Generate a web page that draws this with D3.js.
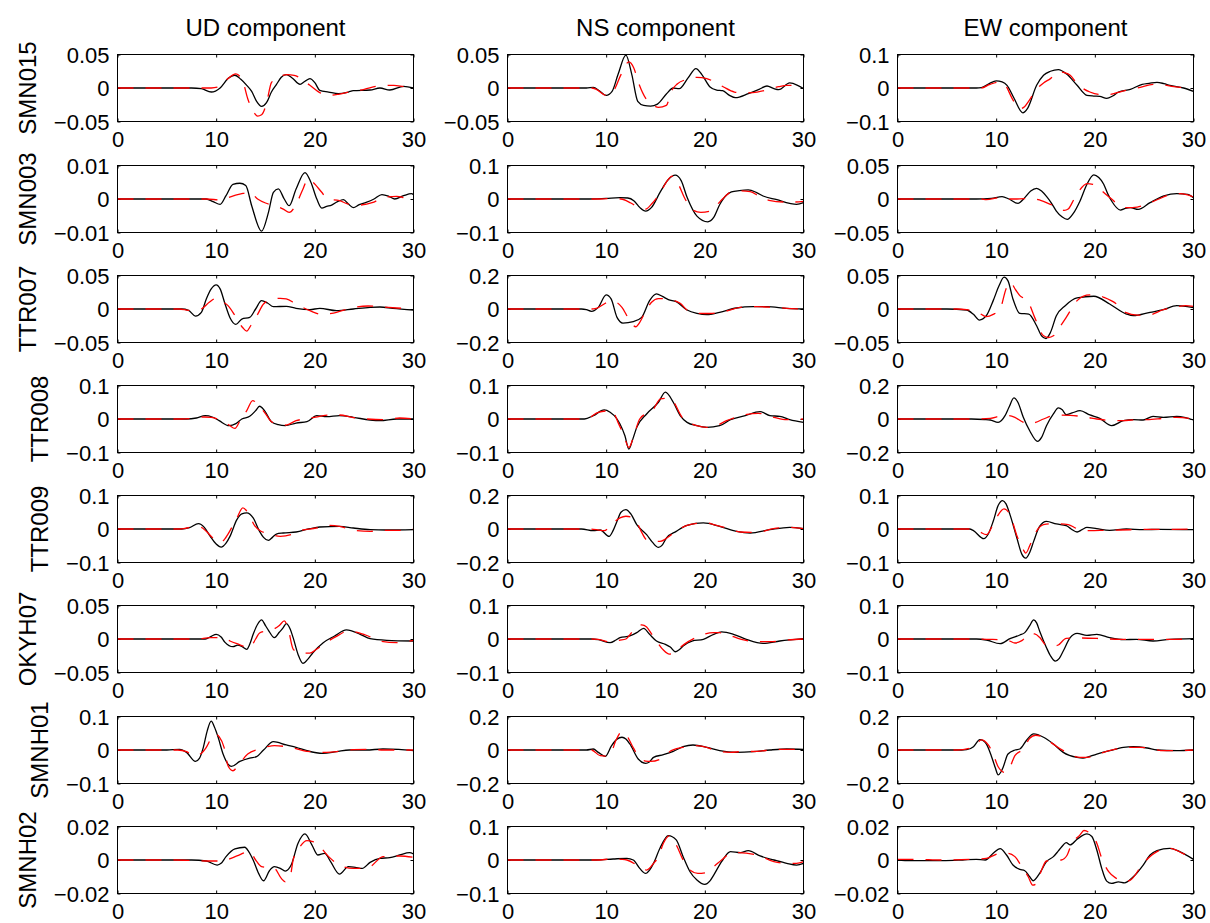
<!DOCTYPE html>
<html>
<head>
<meta charset="utf-8">
<script src="https://cdn.jsdelivr.net/npm/d3@7"></script>
<style>
  body { margin: 0; background: #fff; }
  svg text { font-family: "Liberation Sans", Arial, Helvetica, sans-serif; fill: #000; }
</style>
</head>
<body>
<svg id="chart" width="1210" height="923"></svg>
<script>
// Stations (rows) and components (columns)
const stations = ["SMN015", "SMN003", "TTR007", "TTR008", "TTR009", "OKYH07", "SMNH01", "SMNH02"];
const components = ["UD component", "NS component", "EW component"];
const xTicks = [0, 10, 20, 30];
// symmetric y-limits per station row: [UD, NS, EW]
const yLimits = [
  [0.05, 0.05, 0.1],
  [0.01, 0.1, 0.05],
  [0.05, 0.2, 0.05],
  [0.1, 0.1, 0.2],
  [0.1, 0.2, 0.1],
  [0.05, 0.1, 0.1],
  [0.1, 0.2, 0.2],
  [0.02, 0.1, 0.02]
];

// Waveforms: [time (s), velocity]; obs = observed (black), syn = synthetic (red dashed)
const ud_SMN015_obs = [[0,0],[7.5,0],[8.5,-0.001],[9.5,-0.006],[10.4,0],[11.2,0.014],[11.9,0.019],[12.5,0.013],[13.1,0.004],[13.6,-0.005],[14.1,-0.02],[14.6,-0.0275],[15.1,-0.022],[15.6,-0.006],[16.1,0.005],[16.6,0.016],[17.1,0.02],[17.7,0.015],[18.5,0.0055],[19,0.01],[19.5,0.014],[20,0.008],[20.5,-0.0035],[21.4,-0.006],[22.4,-0.0085],[23.4,-0.006],[23.9,-0.004],[25.6,-0.003],[26.6,0],[27.6,-0.003],[29,0.0025],[30,0]];
const ud_SMN015_syn = [[0,0],[8,0],[9.5,0],[10.5,0.003],[11.2,0.014],[12,0.021],[12.7,0.01],[13.2,-0.016],[13.9,-0.038],[14.2,-0.042],[14.6,-0.04],[15.1,-0.023],[15.6,0.008],[16.3,0.016],[17.2,0.02],[17.9,0.019],[19.5,0.004],[20.5,-0.007],[21.5,-0.011],[22.5,-0.009],[23.5,-0.006],[25,-0.002],[26.5,0.003],[28,0.004],[29,0.002],[30,0]];
const ns_SMN015_obs = [[0,0],[8,0],[8.7,0.001],[9.3,-0.004],[10,-0.011],[10.6,-0.005],[11.2,0.02],[12,0.049],[12.6,0.02],[13.2,-0.02],[13.8,-0.026],[14.5,-0.027],[15.2,-0.024],[16.1,-0.009],[16.8,0],[17.4,-0.001],[18.3,0.015],[19.1,0.029],[19.7,0.02],[20.5,0.002],[21.2,-0.003],[21.8,-0.004],[22.5,-0.011],[23.1,-0.0145],[24.4,-0.0085],[25.5,-0.002],[26.3,0.003],[27,-0.001],[27.5,-0.0025],[28.6,0.0075],[29.4,0.004],[30,-0.001]];
const ns_SMN015_syn = [[0,0],[8.5,0],[9,-0.002],[10,-0.011],[10.8,-0.003],[11.5,0.02],[12.3,0.039],[12.8,0.03],[13.3,0.007],[14.1,-0.0175],[14.8,-0.026],[15.3,-0.029],[16.1,-0.026],[16.6,-0.005],[17.2,0.006],[18.2,0.013],[19.2,0.016],[20.2,0.014],[21,0.009],[21.9,0.0015],[23,-0.006],[24,-0.0075],[25.3,-0.006],[26.5,-0.002],[27.5,0.002],[28.3,0.004],[29.2,0.004],[30,0.001]];
const ew_SMN015_obs = [[0,0],[8,0],[8.5,0.001],[9.3,0.013],[10,0.021],[10.6,0.018],[11.1,0.008],[11.8,-0.03],[12.7,-0.074],[13.2,-0.06],[14.1,0.008],[14.8,0.038],[15.5,0.05],[16.3,0.055],[17.2,0.04],[18.2,0.008],[19.2,-0.022],[19.9,-0.024],[20.5,-0.025],[21.2,-0.031],[21.8,-0.024],[22.4,-0.012],[23.6,-0.004],[24.8,0.011],[25.5,0.014],[26.3,0.017],[27,0.013],[27.6,0.008],[29,0],[30,-0.01]];
const ew_SMN015_syn = [[0,0],[8.5,0],[9.3,0.01],[10.3,0.018],[11,0.005],[11.6,-0.03],[12.4,-0.062],[12.9,-0.055],[13.4,-0.035],[14,-0.007],[14.8,0.015],[15.5,0.028],[16.3,0.048],[17,0.045],[17.5,0.038],[18.2,0.013],[19.5,-0.012],[20.5,-0.019],[21.5,-0.019],[22.5,-0.012],[23.5,-0.005],[24.6,0.002],[25.9,0.011],[27,0.009],[28,0.004],[29,0.001],[30,-0.005]];

const ud_SMN003_obs = [[0,0],[8,0],[9,0],[9.7,-0.0008],[10.4,-0.0016],[11,0.001],[11.7,0.0044],[12.4,0.0047],[13,0.004],[13.6,-0.002],[14.6,-0.0096],[15.3,-0.004],[15.8,0.002],[16.3,0.003],[16.9,0],[17.4,-0.002],[18.1,0.003],[19,0.0079],[19.6,0.005],[20.2,0],[20.7,-0.0027],[21.2,-0.0022],[21.7,-0.0018],[22.3,-0.0008],[22.9,-0.0002],[23.4,-0.0015],[23.9,-0.0026],[24.5,-0.0017],[25.2,-0.001],[26,0],[26.8,0.0013],[27.5,0.0008],[28.1,0],[29,0.001],[29.8,0.0016],[30,0.0013]];
const ud_SMN003_syn = [[0,0],[9,0],[10.5,-0.0003],[11.3,0.0005],[12.5,0.0015],[13.4,0.002],[14.2,0],[15,-0.0012],[16,-0.002],[16.8,-0.003],[17.4,-0.004],[18.2,-0.001],[18.8,0.003],[19.3,0.006],[19.8,0.005],[20.7,0.002],[21.3,0],[22.5,-0.0005],[23.4,-0.0015],[24.5,-0.0018],[25.9,-0.001],[27,0.0005],[28.3,0.0008],[29.2,0.0003],[30,0]];
const ns_SMN003_obs = [[0,0],[8,0],[10,0.002],[11.4,0.004],[12.2,0.003],[12.8,-0.005],[13.4,-0.025],[14,-0.036],[14.6,-0.025],[15.5,0.022],[16.3,0.058],[17,0.071],[17.6,0.055],[18.2,0.005],[19.2,-0.051],[20.3,-0.068],[20.9,-0.055],[21.5,-0.017],[22.2,0.012],[22.7,0.021],[23.5,0.025],[24.4,0.027],[25.2,0.02],[25.9,0.009],[27.3,-0.002],[28.6,-0.013],[29.3,-0.016],[30,-0.011]];
const ns_SMN003_syn = [[0,0],[9,0],[10.5,0.001],[11.5,0],[12.5,-0.012],[13.3,-0.025],[14,-0.03],[14.6,-0.015],[15.5,0.02],[16.2,0.055],[16.7,0.068],[17.3,0.045],[18,0],[18.8,-0.033],[19.6,-0.04],[20.5,-0.036],[21.3,-0.015],[21.8,0],[22.6,0.02],[23.6,0.024],[24.6,0.022],[25.5,0.008],[26.5,-0.004],[28,-0.009],[29,-0.009],[30,-0.007]];
const ew_SMN003_obs = [[0,0],[8,0],[9.5,0.001],[10.6,0.0035],[11.3,0],[12.2,-0.0065],[12.9,0.002],[13.5,0.012],[14.1,0.016],[14.6,0.012],[15.1,0.004],[15.6,-0.006],[16.1,-0.018],[16.7,-0.027],[17.2,-0.0305],[17.8,-0.022],[18.5,-0.003],[19.2,0.022],[19.9,0.036],[20.4,0.032],[20.9,0.022],[21.3,0.008],[21.7,-0.003],[22.6,-0.0165],[23.1,-0.014],[23.6,-0.013],[24.4,-0.0155],[25.6,-0.0055],[27,0.0045],[28.3,0.008],[29.4,0.007],[30,0.002]];
const ew_SMN003_syn = [[0,0],[8.5,0],[9,-0.001],[10.4,0.002],[11.3,0],[12.1,0],[13.6,0.001],[14.5,-0.002],[15.5,-0.008],[16.3,-0.013],[16.9,-0.017],[17.3,-0.015],[17.9,0],[18.4,0.012],[19.2,0.023],[19.8,0.022],[20.5,0.015],[21.2,0.006],[21.7,0],[22.5,-0.01],[23.3,-0.013],[24.3,-0.012],[25.5,-0.006],[26.5,0],[27.3,0.005],[28.6,0.008],[29.4,0.006],[30,0.003]];

const ud_TTR007_obs = [[0,0],[6.5,0],[7.2,-0.002],[7.9,-0.0105],[8.5,-0.005],[9,0.015],[9.5,0.03],[10,0.036],[10.4,0.03],[10.9,0.0075],[11.4,-0.013],[12,-0.023],[12.6,-0.015],[13.4,-0.0125],[14,0],[14.6,0.0125],[15.2,0.009],[15.8,0.0035],[17.1,0.004],[18.1,0.001],[19.5,-0.001],[20.5,0.001],[22.2,-0.0025],[23.9,0],[25.6,0.0025],[26.6,0.003],[27.9,0.001],[30,-0.0015]];
const ud_TTR007_syn = [[0,0],[6.2,0],[7.2,-0.002],[7.7,-0.0025],[8.5,0],[9.3,0.01],[10,0.016],[10.5,0.012],[11.2,0.005],[12,-0.012],[12.7,-0.028],[13.1,-0.033],[13.5,-0.025],[14.2,-0.008],[14.8,0.0075],[15.8,0.015],[16.5,0.016],[17.1,0.015],[18.1,0.0075],[19.5,-0.0025],[20.8,-0.0085],[21.5,-0.007],[22.2,-0.005],[23.7,0.0015],[25.4,0.0045],[26.9,0.003],[28.3,0.0015],[30,0]];
const ns_TTR007_obs = [[0,0],[7.5,0],[8,-0.004],[8.5,-0.014],[9.2,0.01],[10,0.084],[10.5,0.06],[11.1,-0.05],[11.7,-0.084],[12.75,-0.076],[13.6,-0.05],[14.4,0.05],[15.1,0.09],[15.7,0.075],[16.3,0.056],[17.1,0.044],[18.2,-0.006],[19.2,-0.026],[20.2,-0.034],[21.5,-0.02],[23.2,0.006],[24.9,0.014],[26.3,0.014],[28.3,0.004],[30,0]];
const ns_TTR007_syn = [[0,0],[8.5,0],[9,0.004],[10.4,0.044],[11,0.04],[11.6,0.01],[12.3,-0.06],[13,-0.106],[13.4,-0.08],[13.8,-0.036],[14.6,0.04],[15.3,0.062],[16.1,0.06],[17.5,0.034],[18.3,-0.01],[19.5,-0.026],[20.5,-0.027],[22.2,-0.012],[23.6,0.01],[25.3,0.014],[27,0.01],[28.3,0.004],[30,0]];
const ew_TTR007_obs = [[0,0],[5,0],[7,-0.0015],[7.7,-0.008],[8.3,-0.0165],[9,-0.01],[9.7,0.0125],[10.3,0.035],[10.8,0.0475],[11.2,0.042],[11.7,0.015],[12.4,-0.0065],[13.3,-0.0075],[14.1,-0.025],[14.6,-0.04],[15.05,-0.044],[15.5,-0.035],[16.1,-0.01],[17,0.005],[18.2,0.0165],[19.9,0.019],[21.5,0.0075],[23.2,-0.0075],[23.9,-0.01],[25.6,-0.005],[26.95,-0.001],[28.3,0.005],[29.2,0.004],[30,0.002]];
const ew_TTR007_syn = [[0,0],[6,0],[7,-0.001],[7.7,-0.003],[8.5,-0.008],[9,-0.0115],[9.7,-0.008],[10.4,0],[11,0.03],[11.4,0.04],[12,0.028],[12.4,0.02],[13.2,0.012],[13.9,-0.0125],[14.8,-0.04],[15.3,-0.0425],[15.8,-0.04],[16.3,-0.03],[17.1,-0.0125],[18.2,0.0125],[18.8,0.019],[19.5,0.021],[20.2,0.021],[20.9,0.0175],[22.2,0.0075],[23.1,-0.005],[24.3,-0.009],[25.4,-0.009],[26.95,-0.001],[28.3,0.0035],[29.2,0.005],[30,0.004]];

const ud_TTR008_obs = [[0,0],[7,0],[8,0.003],[8.9,0.01],[9.6,0.006],[10.3,-0.005],[11.3,-0.02],[12,-0.014],[12.6,0],[13.4,0.008],[14,0.025],[14.4,0.038],[14.9,0.025],[15.6,-0.008],[16.3,-0.017],[17,-0.02],[18.1,-0.012],[19.2,-0.008],[20.2,0.01],[21.2,0.007],[22.5,0.01],[23.9,0.005],[25.6,-0.003],[26.6,-0.005],[28.3,0],[30,0]];
const ud_TTR008_syn = [[0,0],[6.3,0],[7.8,0.002],[8.8,0.006],[9.5,0.005],[10.5,-0.005],[11.3,-0.018],[11.9,-0.028],[12.5,0],[13.1,0.025],[13.7,0.055],[14.3,0.04],[14.9,0.02],[15.6,-0.008],[16.4,-0.016],[17.1,-0.018],[18.1,-0.005],[19.5,0.002],[20.5,0.008],[21.5,0.012],[22.5,0.012],[23.9,0.004],[25.3,0],[26.9,-0.002],[28.6,0.003],[30,0]];
const ns_TTR008_obs = [[0,0],[7.8,0],[8.7,0.01],[9.8,0.027],[10.4,0.02],[11.1,0],[11.4,-0.015],[11.9,-0.05],[12.3,-0.09],[12.7,-0.06],[13.1,-0.025],[14.1,0.015],[15.3,0.05],[16,0.08],[16.8,0.05],[17.5,0.01],[18.2,-0.01],[19.2,-0.02],[20.2,-0.025],[21.5,-0.02],[22.6,-0.002],[24.1,0.01],[25.6,0.022],[26.6,0.01],[27.6,0.008],[28.6,-0.002],[30,-0.01]];
const ns_TTR008_syn = [[0,0],[8,0],[9.2,0.02],[10.6,0.025],[11.2,-0.01],[11.8,-0.05],[12.3,-0.085],[12.8,-0.05],[13.4,0],[14.8,0.03],[15.5,0.06],[16.2,0.062],[16.8,0.052],[17.7,0.005],[19.2,-0.02],[20.2,-0.025],[21.3,-0.018],[22.2,-0.005],[23.7,0.01],[25.4,0.017],[27,0.005],[28.3,-0.002],[30,0]];
const ew_TTR008_obs = [[0,0],[7.5,0],[8.8,-0.003],[9.4,-0.006],[10.2,-0.02],[10.9,0.02],[11.3,0.07],[11.8,0.126],[12.2,0.1],[12.75,0.01],[13.4,-0.07],[14.2,-0.134],[14.6,-0.11],[15.1,-0.04],[15.8,0.03],[16.3,0.066],[16.7,0.055],[17.1,0.026],[17.7,0.036],[18.5,0.05],[19.5,0.024],[20.5,0.004],[21.7,-0.04],[22.9,-0.01],[23.9,-0.004],[24.9,-0.006],[25.9,0.016],[26.95,0.01],[28.3,0.016],[29.2,0.008],[30,-0.006]];
const ew_TTR008_syn = [[0,0],[8,0],[9.4,0.004],[10.7,0.02],[11.3,0.02],[11.9,0.01],[12.6,-0.015],[13.3,-0.03],[14,-0.02],[14.8,0],[16.1,0.024],[17.5,0.022],[19.2,0.01],[20.2,0],[21.5,-0.008],[22.9,-0.01],[23.9,-0.005],[25.3,-0.004],[26.95,0.004],[28.3,0.01],[30,0]];

const ud_TTR009_obs = [[0,0],[6.5,0],[7.3,0.004],[8.2,0.016],[8.8,0.005],[9.4,-0.022],[10,-0.045],[10.5,-0.054],[11,-0.042],[11.4,-0.022],[12.1,0.028],[12.6,0.045],[13.1,0.048],[13.75,0.033],[14.4,-0.007],[14.8,-0.025],[15.3,-0.034],[15.7,-0.025],[16.1,-0.015],[16.8,-0.012],[18.1,-0.009],[19.5,0.001],[20.5,0.006],[22.5,0.008],[23.9,0.003],[25.6,-0.002],[27.3,-0.003],[30,-0.002]];
const ud_TTR009_syn = [[0,0],[6.3,0],[7,0.003],[7.8,0.008],[8.5,0.005],[9,-0.007],[9.6,-0.025],[10.2,-0.04],[10.7,-0.035],[11.2,-0.015],[12.1,0.033],[12.7,0.063],[13.2,0.05],[13.9,0.01],[14.5,-0.006],[15.1,-0.012],[16.5,-0.022],[17.8,-0.015],[18.6,-0.004],[20.2,0.003],[21,0.011],[22.5,0.008],[23.9,-0.004],[25.6,-0.007],[27,-0.004],[28.6,-0.004],[30,0]];
const ns_TTR009_obs = [[0,0],[7.5,0],[8.7,-0.01],[9.4,-0.006],[10.3,-0.044],[10.7,-0.01],[11.1,0.046],[11.5,0.1],[12,0.116],[12.5,0.09],[13.1,0.026],[14.1,-0.034],[14.7,-0.08],[15.3,-0.11],[15.7,-0.095],[16.1,-0.054],[17.1,-0.014],[18.2,0.022],[19.85,0.036],[21.5,0.016],[23.2,-0.014],[24.6,-0.024],[26.6,-0.004],[28.6,0.01],[30,0.002]];
const ns_TTR009_syn = [[0,0],[8,0],[9,-0.004],[9.8,-0.01],[10.4,0.016],[11,0.05],[11.4,0.066],[12,0.076],[12.6,0.07],[13.1,0.04],[13.6,-0.02],[14.1,-0.064],[14.8,-0.072],[15.45,-0.074],[16,-0.06],[16.6,-0.034],[18.2,0.022],[19.5,0.035],[20.2,0.036],[20.9,0.026],[22.2,0.006],[23.6,-0.018],[25.3,-0.02],[26.95,0.002],[28.6,0.01],[30,0.002]];
const ew_TTR009_obs = [[0,0],[7.3,0],[7.7,-0.005],[8.75,-0.029],[9.2,-0.015],[9.7,0.023],[10.2,0.07],[10.65,0.085],[11,0.075],[11.4,0.043],[12.1,-0.027],[12.6,-0.075],[13,-0.087],[13.4,-0.07],[13.8,-0.037],[14.4,0.008],[15.1,0.023],[16.1,0.015],[17.1,0.01],[17.6,0],[18.2,-0.009],[18.7,-0.002],[19.2,0.005],[20.2,0.001],[21.5,-0.004],[23.2,0],[24.9,-0.002],[26.6,-0.001],[30,-0.002]];
const ew_TTR009_syn = [[0,0],[7.5,0],[8.3,-0.008],[9,-0.017],[10,0.033],[10.8,0.06],[11.4,0.043],[12.1,-0.02],[12.75,-0.062],[13,-0.072],[13.4,-0.05],[13.8,-0.022],[14.8,0.013],[16,0.016],[17.3,0.013],[18.2,0.001],[19.5,-0.005],[21,-0.004],[22.4,-0.003],[23.9,-0.002],[25.3,-0.001],[27,-0.001],[30,0]];

const ud_OKYH07_obs = [[0,0],[8,0],[8.9,0],[9.5,0.004],[10,0.007],[10.5,0.003],[10.9,-0.005],[11.7,-0.0115],[12.2,-0.009],[12.6,-0.011],[13.1,-0.0155],[13.4,-0.008],[13.75,0.007],[14.2,0.022],[14.6,0.0285],[15,0.02],[15.3,0.013],[15.9,0.002],[16.4,0.01],[16.8,0.017],[17.1,0.023],[17.5,0.015],[17.8,0.002],[18.3,-0.023],[18.8,-0.0365],[19.3,-0.03],[19.8,-0.0205],[20.85,-0.0055],[22,0.0045],[23.2,0.0135],[24.6,0.007],[25.6,0.0005],[27.3,-0.002],[30,-0.003]];
const ud_OKYH07_syn = [[0,0],[8,0],[9.4,0.002],[10.7,0.002],[11.4,-0.003],[12.1,-0.007],[13.4,-0.013],[14,0],[14.4,0.009],[15.1,0.012],[15.8,0.0145],[16.4,0.02],[16.9,0.027],[17.3,0.015],[17.8,-0.015],[18.5,-0.021],[19.5,-0.021],[20.2,-0.015],[20.85,-0.008],[22.2,0.004],[23.4,0.012],[24.3,0.01],[25.4,0.0045],[26.6,-0.003],[28.3,-0.0055],[29.2,-0.004],[30,-0.002]];
const ns_OKYH07_obs = [[0,0],[8.5,0],[9.2,-0.002],[10.4,-0.011],[11,-0.003],[11.4,0.004],[12.4,0.009],[13.1,0.019],[13.8,0.032],[14.4,0.014],[15.1,-0.006],[16,-0.016],[16.5,-0.024],[17,-0.038],[17.4,-0.032],[17.8,-0.021],[18.7,-0.006],[19.85,-0.001],[20.9,0.014],[21.7,0.021],[22.9,0.014],[24.2,-0.001],[25.9,-0.013],[27.6,-0.006],[30,0.001]];
const ns_OKYH07_syn = [[0,0],[8.5,0],[9.2,-0.001],[10.55,-0.01],[11.3,-0.004],[12,0],[12.6,0.02],[13.1,0.038],[13.6,0.042],[14.1,0.036],[14.6,0.015],[15.1,-0.006],[15.8,-0.033],[16.4,-0.045],[16.8,-0.042],[17.3,-0.03],[17.9,-0.016],[19.3,0.007],[20.9,0.019],[21.5,0.019],[22.2,0.014],[23.7,-0.001],[25.3,-0.008],[26.6,-0.008],[28.3,-0.003],[30,0]];
const ew_OKYH07_obs = [[0,0],[8,0],[9,-0.003],[10.4,-0.014],[11.4,0.001],[12.4,0.012],[12.9,0.019],[13.4,0.04],[13.8,0.057],[14.1,0.048],[14.4,0.024],[15.1,-0.026],[15.5,-0.05],[16,-0.066],[16.4,-0.058],[16.8,-0.036],[17.5,0.004],[18.2,0.017],[19.2,0.011],[20.2,0.014],[21.5,0.004],[22.9,-0.002],[24.2,-0.001],[25.9,-0.006],[27.6,-0.001],[30,0.001]];
const ew_OKYH07_syn = [[0,0],[8,0],[9,-0.001],[10.55,-0.002],[11.3,-0.005],[11.9,-0.012],[12.6,-0.005],[13.4,0.016],[13.9,0.015],[14.4,0.005],[15,-0.017],[15.7,-0.022],[16.3,-0.018],[17.1,0.002],[18.5,0.003],[20.8,0.001],[22.5,-0.001],[25.3,-0.001],[28,-0.001],[30,0]];

const ud_SMNH01_obs = [[0,0],[5,0],[6.3,0.002],[7,-0.007],[7.9,-0.034],[8.3,-0.025],[8.7,0.008],[9.1,0.058],[9.5,0.086],[9.8,0.07],[10.2,0.038],[10.7,-0.012],[11.2,-0.042],[11.55,-0.049],[12.4,-0.034],[13.4,-0.024],[14.1,-0.02],[14.8,0],[15.8,0.025],[17.1,0.015],[18.1,0.008],[19.2,-0.002],[20.8,-0.01],[22.2,-0.005],[23.5,0],[25.2,0],[26.9,0.003],[28.5,0.002],[30,-0.002]];
const ud_SMNH01_syn = [[0,0],[6.1,0],[7,-0.005],[7.7,-0.017],[8.4,-0.012],[9,0.008],[9.5,0.035],[9.9,0.048],[10.3,0.04],[10.8,0.008],[11.2,-0.047],[11.7,-0.062],[12.2,-0.047],[13.2,-0.012],[14.4,0.003],[15.2,0.01],[15.9,0.013],[17.5,0.008],[19.2,-0.004],[21.2,-0.007],[22.5,-0.004],[23.9,0.001],[25.6,0.002],[27,0],[30,0]];
const ns_SMNH01_obs = [[0,0],[8,0],[8.7,0.006],[9.2,-0.014],[9.9,-0.038],[10.55,0.026],[11.1,0.065],[11.6,0.076],[12,0.065],[12.4,0.036],[13.25,-0.054],[14,-0.08],[14.4,-0.07],[14.8,-0.044],[15.8,-0.028],[16.8,-0.008],[17.8,0.02],[18.8,0.03],[20.2,0.016],[21.5,-0.004],[23.2,-0.014],[24.9,-0.01],[26.6,0],[28.3,0.006],[30,0.004]];
const ns_SMNH01_syn = [[0,0],[8.5,0],[9.4,-0.034],[9.9,-0.036],[10.4,-0.028],[11,0.06],[11.6,0.11],[12.05,0.09],[12.6,0.03],[13.3,-0.04],[14,-0.066],[14.5,-0.068],[15.5,-0.054],[16.6,-0.004],[18.2,0.02],[19,0.026],[20.2,0.016],[20.9,0],[22.6,-0.014],[23.6,-0.01],[25.3,-0.008],[27,0.002],[28.3,0.004],[30,0.002]];
const ew_SMNH01_obs = [[0,0],[6.5,0],[7,0.002],[7.7,0.02],[8.35,0.062],[8.7,0.055],[9,0.036],[9.5,-0.034],[9.9,-0.104],[10.2,-0.148],[10.5,-0.13],[10.7,-0.104],[11.2,-0.024],[11.9,0],[12.4,0.006],[13.1,0.06],[13.8,0.096],[14.8,0.076],[15.8,0.036],[16.8,-0.014],[18.2,-0.044],[18.8,-0.048],[20.2,-0.024],[21.5,-0.004],[22.9,0.016],[23.9,0.02],[25.3,0.012],[26.3,0],[28.3,-0.004],[30,0]];
const ew_SMNH01_syn = [[0,0],[6,0],[7.7,0.016],[8.5,0.06],[9.2,0.03],[9.7,-0.024],[10.2,-0.1],[10.9,-0.134],[11.4,-0.1],[11.9,-0.034],[12.75,0.006],[13.4,0.07],[14,0.088],[14.8,0.076],[15.8,0.035],[16.8,-0.004],[18.5,-0.044],[19.2,-0.044],[20.9,-0.014],[22,0.004],[23.2,0.016],[24.6,0.016],[25.4,0.012],[27,-0.004],[28.3,-0.004],[30,0]];

const ud_SMNH02_obs = [[0,0],[7.5,0],[9,-0.0006],[10.1,-0.003],[10.5,-0.002],[11,0.002],[11.9,0.0066],[12.9,0.0076],[13.3,0.005],[13.75,0],[14.3,-0.008],[14.8,-0.0124],[15.4,-0.0064],[15.9,-0.004],[16.5,-0.005],[17,-0.0066],[17.6,-0.003],[18.3,0.01],[19,0.0156],[19.7,0.009],[20.3,0.003],[21,0.004],[21.6,-0.001],[22.5,-0.0084],[23.4,-0.004],[24.1,-0.0044],[24.8,-0.005],[25.6,-0.0014],[26.6,0.001],[27.6,0.0014],[28.6,0.003],[29.6,0.0044],[30,0.0036]];
const ud_SMNH02_syn = [[0,0],[6,0],[7.7,-0.0003],[9.4,-0.0006],[10.7,-0.0006],[11.5,0.001],[12.1,0.0024],[13.4,0.005],[14,0],[14.6,-0.004],[15.9,-0.005],[16.6,-0.011],[17,-0.013],[17.5,-0.01],[17.8,0],[18.5,0.008],[19.2,0.0116],[19.8,0.011],[20.5,0.008],[21.4,0.002],[22.5,-0.003],[23.9,-0.005],[25,-0.005],[25.6,-0.004],[26.9,0.002],[28.6,0.0024],[30,0.0016]];
const ns_SMNH02_obs = [[0,0],[9,0],[10.7,0.003],[12.1,0.005],[12.75,0],[13.4,-0.025],[14,-0.04],[14.4,-0.03],[14.8,-0.01],[15.45,0.035],[16.3,0.073],[17.1,0.06],[17.8,0.01],[18.5,-0.035],[19.2,-0.06],[20,-0.073],[20.5,-0.063],[20.9,-0.045],[21.7,-0.005],[22.6,0.025],[23.6,0.022],[24.4,0.028],[25.6,0.012],[27,0],[28.3,-0.01],[29.3,-0.015],[30,-0.01]];
const ns_SMNH02_syn = [[0,0],[9,0],[10.7,0.003],[11.5,0.002],[12.1,0],[13.4,-0.02],[14.1,-0.03],[14.8,-0.01],[15.3,0.01],[15.8,0.05],[16.4,0.072],[17.1,0.045],[17.8,0],[18.6,-0.032],[19.3,-0.04],[20.1,-0.038],[20.9,-0.02],[21.7,0],[22.5,0.018],[23.2,0.022],[25.3,0.015],[27,-0.005],[28.3,-0.01],[29.3,-0.01],[30,-0.005]];
const ew_SMNH02_obs = [[0,0],[1.3,-0.0004],[4.6,-0.0004],[6.6,0],[8,0.0004],[8.9,0],[9.7,0.004],[10.4,0.0068],[11.05,0.003],[11.7,-0.003],[12.4,-0.0056],[12.9,-0.0064],[13.4,-0.01],[13.75,-0.0124],[14.4,-0.008],[15.1,-0.001],[15.8,0.002],[16.3,0.0054],[16.8,0.009],[17.1,0.0104],[17.5,0.009],[18.2,0.0124],[19.2,0.0156],[19.7,0.014],[20.2,0.006],[20.7,-0.005],[21.2,-0.0126],[21.7,-0.014],[22.4,-0.013],[23,-0.0136],[23.9,-0.01],[24.9,-0.003],[25.6,0.003],[26.3,0.0056],[27.6,0.007],[28.6,0.005],[30,0.0004]];
const ew_SMNH02_syn = [[0,0.0004],[1.8,0.0004],[4.5,0],[7.5,0.0004],[9,0.001],[10.4,0.004],[11.2,0.004],[11.9,0.002],[12.6,-0.004],[13.25,-0.01],[13.7,-0.015],[14.1,-0.014],[14.6,-0.006],[15.1,-0.0006],[16.6,0],[17.2,0.003],[17.6,0.009],[18.5,0.015],[18.9,0.0176],[19.5,0.016],[20.2,0.01],[20.7,0.001],[21.4,-0.007],[22.2,-0.011],[22.9,-0.013],[23.6,-0.012],[24.9,-0.002],[26.3,0.005],[27.6,0.007],[28.9,0.004],[30,0.0004]];

// rows x columns lookup for the panel grid
const observed = [
  [ud_SMN015_obs, ns_SMN015_obs, ew_SMN015_obs],
  [ud_SMN003_obs, ns_SMN003_obs, ew_SMN003_obs],
  [ud_TTR007_obs, ns_TTR007_obs, ew_TTR007_obs],
  [ud_TTR008_obs, ns_TTR008_obs, ew_TTR008_obs],
  [ud_TTR009_obs, ns_TTR009_obs, ew_TTR009_obs],
  [ud_OKYH07_obs, ns_OKYH07_obs, ew_OKYH07_obs],
  [ud_SMNH01_obs, ns_SMNH01_obs, ew_SMNH01_obs],
  [ud_SMNH02_obs, ns_SMNH02_obs, ew_SMNH02_obs]
];
const synthetic = [
  [ud_SMN015_syn, ns_SMN015_syn, ew_SMN015_syn],
  [ud_SMN003_syn, ns_SMN003_syn, ew_SMN003_syn],
  [ud_TTR007_syn, ns_TTR007_syn, ew_TTR007_syn],
  [ud_TTR008_syn, ns_TTR008_syn, ew_TTR008_syn],
  [ud_TTR009_syn, ns_TTR009_syn, ew_TTR009_syn],
  [ud_OKYH07_syn, ns_OKYH07_syn, ew_OKYH07_syn],
  [ud_SMNH01_syn, ns_SMNH01_syn, ew_SMNH01_syn],
  [ud_SMNH02_syn, ns_SMNH02_syn, ew_SMNH02_syn]
];

// ---- layout ----
const svg = d3.select("#chart");
const colLeft = [117.5, 507.5, 897.5];
const plotW = 296, plotH = 67;
const rowTop = i => Math.round(54.3 + i * 110.2) + 0.5;
const tickFont = 22, labelFont = 24;
const fmt = v => v === 0 ? "0" : (v < 0 ? "\u2212" : "") + String(Math.abs(v));

const x = d3.scaleLinear().domain([0, 30]).range([0, plotW]);

// column titles
components.forEach((name, c) => {
  svg.append("text")
    .attr("x", colLeft[c] + plotW / 2)
    .attr("y", 35.5)
    .attr("text-anchor", "middle")
    .style("font-size", labelFont + "px")
    .text(name);
});

stations.forEach((st, r) => {
  components.forEach((comp, c) => {
    const lim = yLimits[r][c];
    const y = d3.scaleLinear().domain([-lim, lim]).range([plotH, 0]);
    const g = svg.append("g").attr("transform", `translate(${colLeft[c]},${rowTop(r)})`);
    const clipId = `clip-${r}-${c}`;
    g.append("clipPath").attr("id", clipId)
      .append("rect").attr("x", 0).attr("y", 0).attr("width", plotW).attr("height", plotH);

    const yTicks = [-lim, 0, lim];

    // axes with inward ticks
    const xb = g.append("g").attr("transform", `translate(0,${plotH})`)
      .call(d3.axisBottom(x).tickValues(xTicks).tickSizeInner(-3).tickSizeOuter(0).tickPadding(10).tickFormat(d3.format("d")));
    const xt = g.append("g")
      .call(d3.axisTop(x).tickValues(xTicks).tickSizeInner(-3).tickSizeOuter(0).tickFormat(""));
    const yl = g.append("g")
      .call(d3.axisLeft(y).tickValues(yTicks).tickSizeInner(-3).tickSizeOuter(0).tickPadding(8).tickFormat(fmt));
    const yr = g.append("g").attr("transform", `translate(${plotW},0)`)
      .call(d3.axisRight(y).tickValues(yTicks).tickSizeInner(-3).tickSizeOuter(0).tickFormat(""));
    [xb, xt, yl, yr].forEach(a => {
      a.select(".domain").remove();
      a.attr("font-family", null).attr("font-size", null);
      a.selectAll("line").attr("stroke", "#000");
      a.selectAll("text").style("font-size", tickFont + "px");
    });
    yl.selectAll("text").attr("dy", "0.36em");

    // waveforms: observed first, synthetic dashed on top
    const line = d3.line().x(d => x(d[0])).y(d => y(d[1])).curve(d3.curveMonotoneX);
    const traces = g.append("g").attr("clip-path", `url(#${clipId})`);
    traces.append("path").datum(observed[r][c])
      .attr("d", line).attr("fill", "none").attr("stroke", "#000").attr("stroke-width", 1.3);
    traces.append("path").datum(synthetic[r][c])
      .attr("d", line).attr("fill", "none").attr("stroke", "#ff0000").attr("stroke-width", 1.3)
      .attr("stroke-dasharray", "16,12");

    // axes box
    g.append("rect").attr("x", 0).attr("y", 0).attr("width", plotW).attr("height", plotH)
      .attr("fill", "none").attr("stroke", "#000").attr("stroke-width", 1);

    // station label to the left of the first column
    if (c === 0) {
      const bb = yl.node().getBBox();
      g.append("text")
        .attr("transform", `translate(${bb.x - 18},${plotH / 2}) rotate(-90)`)
        .attr("text-anchor", "middle")
        .style("font-size", labelFont + "px")
        .text(st);
    }
  });
});
</script>
</body>
</html>
